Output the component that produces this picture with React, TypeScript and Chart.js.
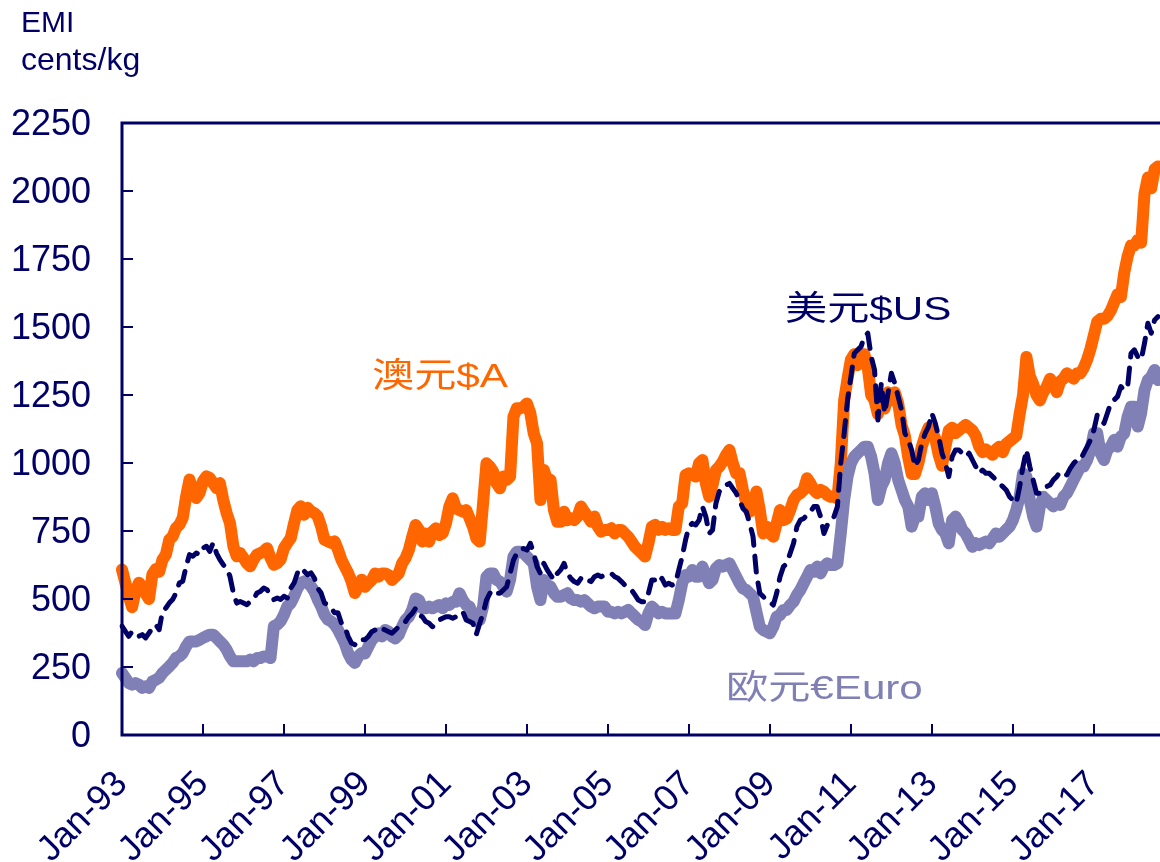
import React, { useEffect, useRef } from "react";
import { Chart, registerables } from "chart.js";

Chart.register(...registerables);

// ---------- data (monthly, Jan-1993 .. Aug-2018), cents/kg ----------
const START_YEAR = 1993;
const MONTH_NAMES = ["Jan", "Feb", "Mar", "Apr", "May", "Jun", "Jul", "Aug", "Sep", "Oct", "Nov", "Dec"];

const audValues = [
  608, 560, 510, 470, 530, 560, 545, 520, 500, 590, 610, 600,
  645, 663, 718, 730, 761, 773, 798, 877, 939, 902, 871, 890,
  933, 951, 945, 926, 908, 926, 865, 816, 779, 694, 657, 669,
  651, 632, 620, 645, 663, 669, 675, 687, 651, 626, 632, 645,
  687, 706, 724, 779, 828, 841, 810, 835, 822, 816, 804, 767,
  718, 712, 706, 712, 681, 645, 620, 596, 565, 522, 547, 571,
  545, 558, 570, 594, 582, 594, 594, 588, 570, 582, 594, 631,
  650, 680, 729, 772, 754, 711, 741, 711, 748, 760, 735, 741,
  778, 840, 870, 833, 827, 821, 827, 797, 766, 723, 711, 852,
  999, 987, 968, 925, 907, 950, 938, 950, 1170, 1201, 1201, 1207,
  1219, 1183, 1109, 1072, 864, 974, 938, 938, 827, 784, 784, 821,
  790, 797, 790, 803, 840, 821, 803, 784, 803, 766, 748, 754,
  754, 760, 741, 754, 754, 741, 729, 711, 692, 680, 668, 656,
  705, 766, 772, 754, 766, 754, 760, 754, 754, 840, 852, 956,
  962, 956, 950, 999, 1011, 925, 876, 919, 974, 987, 1005, 1029,
  1048, 999, 962, 962, 901, 852, 821, 852, 895, 827, 741, 766,
  741, 729, 778, 827, 790, 796, 827, 864, 882, 889, 901, 944,
  925, 901, 889, 901, 895, 882, 876, 876, 870, 1000, 1230, 1310,
  1380, 1400, 1360, 1380, 1400, 1350, 1250, 1230, 1180, 1230, 1200, 1260,
  1230, 1260, 1220, 1140, 1100, 1020, 960, 960, 1000, 1060, 1100, 1130,
  1120, 1090, 1030, 990, 1060, 1120, 1130, 1110, 1120, 1130, 1140, 1130,
  1120, 1100, 1060, 1040, 1050, 1040, 1030, 1050, 1060, 1040, 1070, 1080,
  1090, 1100, 1180, 1250, 1390, 1320, 1290, 1250, 1230, 1260, 1280, 1310,
  1290, 1260, 1300, 1310, 1330, 1320, 1310, 1330, 1330, 1350, 1380, 1420,
  1470, 1520, 1530, 1530, 1540, 1560, 1590, 1620, 1610, 1700, 1760, 1800,
  1800, 1820, 1810, 1990, 2050, 2010, 2080, 2090,
];

const usdValues = [
  400, 381, 363, 381, 375, 363, 369, 357, 375, 393, 406, 387,
  455, 467, 485, 498, 522, 559, 565, 620, 663, 657, 669, 663,
  687, 694, 675, 706, 669, 645, 626, 614, 583, 522, 485, 491,
  485, 479, 491, 498, 522, 528, 540, 534, 510, 498, 504, 498,
  510, 504, 540, 559, 596, 614, 602, 589, 596, 577, 540, 522,
  485, 479, 467, 449, 449, 412, 400, 363, 338, 332, 351, 351,
  350, 362, 380, 386, 398, 392, 386, 380, 374, 386, 398, 411,
  417, 435, 447, 466, 441, 435, 417, 411, 398, 404, 423, 429,
  435, 435, 429, 435, 447, 453, 423, 417, 411, 370, 411, 447,
  496, 521, 533, 521, 521, 533, 545, 594, 643, 668, 680, 686,
  680, 705, 668, 619, 594, 631, 607, 588, 570, 594, 607, 631,
  594, 576, 564, 558, 576, 582, 570, 564, 582, 588, 582, 588,
  588, 594, 582, 576, 564, 551, 545, 533, 515, 496, 490, 490,
  521, 570, 570, 558, 576, 551, 558, 551, 558, 607, 656, 717,
  766, 778, 772, 790, 840, 803, 741, 754, 852, 895, 913, 919,
  925, 907, 889, 864, 833, 821, 778, 729, 594, 521, 509, 496,
  490, 478, 521, 582, 619, 631, 668, 705, 766, 790, 796, 809,
  821, 840, 840, 803, 741, 772, 790, 803, 840, 1000, 1109, 1232,
  1317, 1403, 1416, 1428, 1465, 1477, 1391, 1342, 1158, 1293, 1183, 1256,
  1330, 1293, 1244, 1195, 1109, 1085, 1048, 987, 1011, 1072, 1109, 1134,
  1183, 1146, 1097, 1036, 999, 950, 1023, 1048, 1048, 1036, 1023, 1036,
  1011, 987, 962, 974, 962, 962, 950, 938, 925, 913, 901, 876,
  864, 852, 913, 987, 1048, 987, 938, 889, 889, 901, 913, 919,
  938, 950, 968, 962, 956, 980, 999, 1011, 1011, 1036, 1060, 1085,
  1121, 1177, 1158, 1146, 1183, 1220, 1232, 1244, 1281, 1268, 1281, 1403,
  1416, 1391, 1379, 1440, 1514, 1477, 1526, 1538,
];

const eurValues = [
  228, 210, 191, 185, 191, 185, 173, 179, 173, 197, 203, 210,
  228, 240, 252, 265, 283, 289, 301, 326, 344, 344, 344, 350,
  357, 363, 369, 369, 357, 344, 332, 314, 289, 271, 271, 271,
  271, 271, 277, 271, 283, 283, 289, 289, 283, 400, 406, 418,
  442, 473, 485, 510, 540, 559, 565, 559, 547, 528, 498, 473,
  442, 424, 418, 406, 387, 363, 338, 301, 277, 265, 289, 301,
  300, 325, 349, 362, 374, 362, 386, 380, 362, 355, 368, 398,
  423, 435, 460, 502, 496, 466, 466, 472, 466, 472, 478, 466,
  484, 478, 490, 490, 521, 496, 478, 472, 441, 417, 423, 472,
  582, 594, 594, 570, 564, 545, 527, 570, 656, 674, 674, 668,
  656, 643, 631, 545, 496, 570, 551, 545, 521, 508, 508, 515,
  521, 502, 496, 496, 490, 496, 484, 472, 466, 472, 472, 472,
  453, 453, 447, 453, 447, 453, 460, 447, 435, 423, 417, 404,
  447, 472, 460, 447, 453, 447, 447, 447, 447, 496, 558, 588,
  582, 607, 582, 582, 619, 588, 558, 570, 613, 625, 619, 625,
  631, 607, 582, 558, 539, 533, 521, 509, 453, 398, 386, 380,
  374, 398, 435, 441, 460, 460, 478, 490, 515, 533, 558, 582,
  607, 600, 619, 594, 619, 631, 625, 625, 631, 741, 864, 950,
  999, 1023, 1036, 1048, 1060, 1060, 1023, 962, 864, 913, 938, 999,
  1036, 999, 938, 901, 864, 840, 766, 803, 803, 876, 889, 864,
  889, 840, 778, 754, 741, 705, 790, 803, 784, 754, 741, 717,
  692, 705, 698, 705, 711, 705, 723, 741, 729, 741, 754, 766,
  790, 827, 876, 962, 950, 864, 803, 766, 840, 876, 864, 852,
  840, 852, 846, 876, 889, 913, 938, 962, 987, 987, 1011, 1048,
  1109, 1109, 1036, 1011, 1048, 1060, 1085, 1060, 1097, 1109, 1170, 1207,
  1207, 1134, 1183, 1268, 1305, 1317, 1342, 1305,
];

const yTickValues = [0, 250, 500, 750, 1000, 1250, 1500, 1750, 2000, 2250];
const xTickLabels = [
  "Jan-93", "Jan-95", "Jan-97", "Jan-99", "Jan-01", "Jan-03", "Jan-05",
  "Jan-07", "Jan-09", "Jan-11", "Jan-13", "Jan-15", "Jan-17",
];

const categories = audValues.map((_, i) => {
  const yr = (START_YEAR + Math.floor(i / 12)) % 100;
  return `${MONTH_NAMES[i % 12]}-${String(yr).padStart(2, "0")}`;
});

const seriesLabels = { aud: "澳元$A", usd: "美元$US", eur: "欧元€Euro" };

// ---------- styles ----------
const NAVY = "#000066";
const ORANGE = "#FF6600";
const LAVENDER = "#8080B6";
const FONT = "'Liberation Sans', Arial, 'Noto Sans CJK SC', sans-serif";

const W = 1160;
const H = 862;

const axisDecor = {
  id: "axisDecor",
  afterDatasetsDraw(chart: any) {
    const { ctx, chartArea, scales } = chart;
    const xs = scales.x;
    const ys = scales.y;
    ctx.save();
    ctx.strokeStyle = NAVY;
    ctx.lineCap = "butt";
    ctx.lineWidth = 3;
    ctx.beginPath();
    ctx.moveTo(chartArea.left, chartArea.top - 1.5);
    ctx.lineTo(chartArea.left, chartArea.bottom + 1.5);
    ctx.moveTo(chartArea.left - 1.5, chartArea.bottom);
    ctx.lineTo(chart.width, chartArea.bottom);
    ctx.moveTo(chartArea.left - 1.5, chartArea.top);
    ctx.lineTo(chart.width, chartArea.top);
    ctx.stroke();
    ctx.lineWidth = 2;
    ctx.beginPath();
    yTickValues.forEach((v) => {
      const py = Math.round(ys.getPixelForValue(v));
      ctx.moveTo(chartArea.left, py);
      ctx.lineTo(chartArea.left + 11, py);
    });
    xTickLabels.forEach((lab) => {
      const idx = categories.indexOf(lab);
      if (idx <= 0) return;
      const px = Math.round(xs.getPixelForValue(idx));
      ctx.moveTo(px, chartArea.bottom);
      ctx.lineTo(px, chartArea.bottom - 11);
    });
    ctx.stroke();
    ctx.restore();
  },
};

export default function App() {
  const canvasRef = useRef<HTMLCanvasElement | null>(null);

  useEffect(() => {
    if (!canvasRef.current) return;
    const chart = new Chart(canvasRef.current, {
      type: "line",
      data: {
        labels: categories,
        datasets: [
          {
            label: seriesLabels.usd,
            data: usdValues,
            borderColor: NAVY,
            borderWidth: 5,
            borderDash: [16, 11],
            borderCapStyle: "round",
            borderJoinStyle: "round",
            pointRadius: 0,
            tension: 0,
            fill: false,
            order: 0,
          },
          {
            label: seriesLabels.eur,
            data: eurValues,
            borderColor: LAVENDER,
            borderWidth: 12,
            borderCapStyle: "round",
            borderJoinStyle: "round",
            pointRadius: 0,
            tension: 0,
            fill: false,
            order: 1,
          },
          {
            label: seriesLabels.aud,
            data: audValues,
            borderColor: ORANGE,
            borderWidth: 12,
            borderCapStyle: "round",
            borderJoinStyle: "round",
            pointRadius: 0,
            tension: 0,
            fill: false,
            order: 2,
          },
        ],
      },
      options: {
        responsive: false,
        animation: false,
        devicePixelRatio: 1,
        events: [],
        layout: { padding: { top: 123, right: 2, bottom: 0, left: 0 } },
        plugins: {
          legend: { display: false },
          tooltip: { enabled: false },
          title: { display: false },
        },
        scales: {
          x: {
            type: "category",
            offset: false,
            grid: { display: false, drawTicks: false },
            border: { display: false },
            ticks: {
              autoSkip: false,
              minRotation: 45,
              maxRotation: 45,
              padding: 28,
              color: NAVY,
              font: { family: FONT, size: 36 },
              callback: function (this: any, value: any) {
                const lab = this.getLabelForValue(value);
                return xTickLabels.includes(lab) ? lab : null;
              },
            },
            afterFit: (scale: any) => {
              scale.height = H - 735;
            },
          },
          y: {
            type: "linear",
            min: 0,
            max: 2250,
            grid: { display: false, drawTicks: false },
            border: { display: false },
            ticks: {
              stepSize: 250,
              padding: 31,
              labelOffset: 2,
              color: NAVY,
              font: { family: FONT, size: 36 },
              callback: (value: any) => String(value),
            },
            afterFit: (scale: any) => {
              scale.width = 122;
            },
          },
        },
      },
      plugins: [axisDecor],
    });
    return () => chart.destroy();
  }, []);

  const textBase: React.CSSProperties = {
    position: "absolute",
    fontFamily: FONT,
    lineHeight: 1,
    whiteSpace: "nowrap",
    margin: 0,
  };
  const seriesText = (color: string, left: number, top: number): React.CSSProperties => ({
    ...textBase,
    color,
    left,
    top,
    fontSize: 34,
    transform: "scaleX(1.24)",
    transformOrigin: "0 0",
  });

  return (
    <div style={{ position: "fixed", left: 0, top: 0, width: W, height: H, background: "#fff" }}>
      <canvas ref={canvasRef} width={W} height={H} style={{ display: "block" }} />
      <div style={{ ...textBase, color: NAVY, fontSize: 30, left: 21, top: 7 }}>EMI</div>
      <div style={{ ...textBase, color: NAVY, fontSize: 32, left: 21, top: 43 }}>cents/kg</div>
      <div style={seriesText(ORANGE, 372, 358)}>{seriesLabels.aud}</div>
      <div style={seriesText(NAVY, 785, 291)}>{seriesLabels.usd}</div>
      <div style={seriesText(LAVENDER, 726, 670)}>{seriesLabels.eur}</div>
    </div>
  );
}
